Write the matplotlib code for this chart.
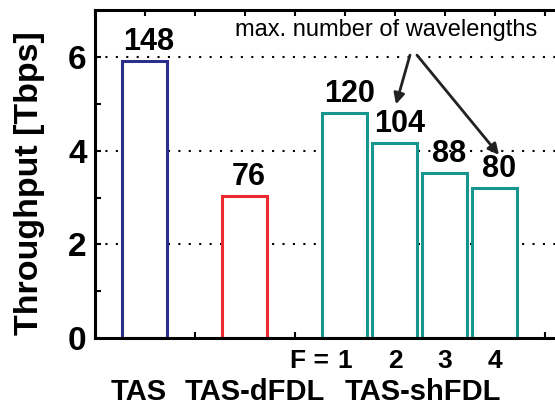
"""Throughput of TAS variants, bars labelled with wavelength counts."""
import matplotlib
matplotlib.use("Agg")
import matplotlib.pyplot as plt
import numpy as np


schemes = ["TAS", "TAS-dFDL", "TAS-shFDL"]
fdl_counts = ["1", "2", "3", "4"]
throughput = [5.92, 3.04, 4.80, 4.16, 3.52, 3.20]
wavelengths = [148, 76, 120, 104, 88, 80]
bar_pos = [1, 3, 5, 6, 7, 8]
bar_colors = ["#2b2e8c", "#ee2a2e", "#17958f", "#17958f", "#17958f", "#17958f"]

FONT = "Liberation Sans"


def do_plot():
    plt.rcParams["font.family"] = [FONT, "DejaVu Sans"]
    fig = plt.figure(figsize=(5.55, 4.05), dpi=100)
    ax = fig.add_axes([0.171, 0.165, 0.829, 0.81])

    ax.set_xlim(0, 9.2)
    ax.set_ylim(0, 7)

    # dotted grid behind the (white filled) bars
    for y in [2, 4, 6]:
        ax.axhline(y, color="black", lw=1.5, ls=(0, (1, 4)), zorder=0)

    ax.bar(bar_pos, throughput, width=0.9, color="white",
           edgecolor=bar_colors, linewidth=2.2, zorder=2)

    for x, h, n in zip(bar_pos, throughput, wavelengths):
        ax.annotate(str(n), (x, h), xytext=(3, 3), textcoords="offset points",
                    ha="center", va="bottom", fontsize=22, fontweight="bold",
                    zorder=3)

    ax.set_yticks([0, 2, 4, 6])
    ax.set_yticks([1, 3, 5], minor=True)
    ax.set_yticklabels(["0", "2", "4", "6"], fontsize=24, fontweight="bold")
    ax.set_xticks(np.arange(10))
    ax.set_xticklabels([])
    ax.tick_params(axis="both", which="both", direction="in", length=4,
                   width=1.5, top=True, pad=6)

    for side in ["left", "bottom", "top"]:
        ax.spines[side].set_linewidth(2.2)
    ax.spines["right"].set_visible(False)

    fig.text(30 / 555, 1 - 183 / 405, "Throughput [Tbps]", rotation=90,
             ha="center", va="center", fontsize=24.5, fontweight="bold")

    # F = 1 .. 4 under the shFDL bars
    trans = ax.get_xaxis_transform()
    for i, lab in enumerate(fdl_counts):
        ax.text(5 + i, -0.0915, lab, transform=trans, ha="center",
                va="baseline", fontsize=19, fontweight="bold")
    ax.text(4.82, -0.0915, "F = ", transform=trans, ha="right",
            va="baseline", fontsize=19, fontweight="bold")

    for x, s in zip([0.88, 3.2, 6.56], schemes):
        ax.text(x, -0.189, s, transform=trans, ha="center", va="baseline",
                fontsize=21, fontweight="bold")

    ax.text(5.82, 6.57, "max. number of wavelengths", ha="center",
            va="center", fontsize=17)
    for start, tip in [((6.3, 6.04), (6.02, 4.99)), ((6.44, 6.04), (8.08, 3.91))]:
        ax.annotate("", xy=tip, xytext=start,
                    arrowprops=dict(arrowstyle="-|>", color="#222222",
                                    lw=2, mutation_scale=16,
                                    shrinkA=0, shrinkB=0))

    fig.savefig("out.png", dpi=100)


if __name__ == "__main__":
    do_plot()
